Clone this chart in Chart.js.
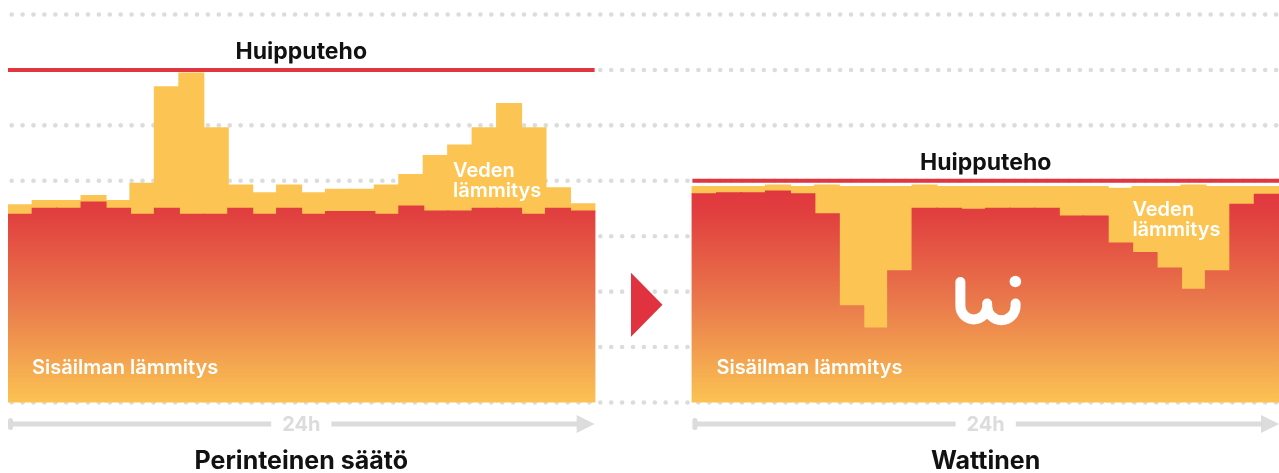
<!DOCTYPE html>
<html>
<head>
<meta charset="utf-8">
<title>Huipputeho</title>
<script src="https://cdn.jsdelivr.net/npm/chart.js@4/dist/chart.umd.min.js"></script>
<style>
  html, body { margin: 0; padding: 0; background: #fff; overflow: hidden; }
  #wrap { position: relative; width: 1279px; height: 473px; }
</style>
</head>
<body>
<div id="wrap"><canvas id="chart"></canvas></div>
<script>
(function () {
    'use strict';

    // 24 tunnin jaksot, kaksi paneelia ja väli niiden välissä
    const hours = ['00', '01', '02', '03', '04', '05', '06', '07', '08', '09', '10', '11',
                   '12', '13', '14', '15', '16', '17', '18', '19', '20', '21', '22', '23'];
    const gapSlots = 4;

    // Perinteinen säätö
    const traditionalIndoor = [3.39, 3.50, 3.50, 3.61, 3.50, 3.39, 3.50, 3.39, 3.39, 3.50, 3.39, 3.50,
                               3.39, 3.44, 3.44, 3.39, 3.54, 3.45, 3.45, 3.50, 3.50, 3.39, 3.50, 3.45];
    const traditionalWater  = [0.17, 0.14, 0.14, 0.12, 0.14, 0.56, 2.19, 2.55, 1.56, 0.42, 0.39, 0.42,
                               0.39, 0.40, 0.40, 0.53, 0.57, 1.00, 1.19, 1.45, 1.89, 1.56, 0.37, 0.13];
    const traditionalPeak = 6;

    // Wattinen
    const wattinenIndoor = [3.76, 3.78, 3.78, 3.81, 3.76, 3.40, 1.74, 1.34, 2.37, 3.50, 3.50, 3.48,
                            3.50, 3.50, 3.50, 3.36, 3.36, 2.87, 2.70, 2.42, 2.04, 2.37, 3.57, 3.75];
    const wattinenWater  = [0.13, 0.11, 0.11, 0.11, 0.13, 0.52, 2.15, 2.55, 1.52, 0.42, 0.39, 0.41,
                            0.39, 0.39, 0.39, 0.53, 0.53, 0.99, 1.19, 1.47, 1.88, 1.52, 0.32, 0.14];
    const wattinenPeak = 4;

    const panelTitles = ['Perinteinen säätö', 'Wattinen'];
    const peakLabel = 'Huipputeho';
    const indoorLabel = 'Sisäilman lämmitys';
    const waterLabel = ['Veden', 'lämmitys'];
    const axisLabel = '24h';

    const RED = '#E0363F';
    const YELLOW = '#FCC452';
    const GREY = '#DCDCDC';
    const FONT = 'Inter, "Noto Sans", sans-serif';

    const gap = new Array(gapSlots).fill(null);
    const labels = hours.concat(gap.map(() => ''), hours);
    const indoorData = traditionalIndoor.concat(gap, wattinenIndoor);
    const waterData = traditionalWater.concat(gap, wattinenWater);

    const n = hours.length;
    const rightStart = n + gapSlots;
    const peakData = [
        { x: -0.5, y: traditionalPeak },
        { x: n - 0.5, y: traditionalPeak },
        { x: n + 1, y: null },
        { x: rightStart - 0.5, y: wattinenPeak },
        { x: rightStart + n - 0.5, y: wattinenPeak }
    ];

    function indoorGradient(context) {
        const chart = context.chart;
        if (!chart.chartArea) return RED;
        const y = chart.scales.y;
        const g = chart.ctx.createLinearGradient(0, y.getPixelForValue(3.85), 0, y.getPixelForValue(0));
        g.addColorStop(0, '#E0363F');
        g.addColorStop(0.12, '#E1403F');
        g.addColorStop(0.55, '#EA7C4C');
        g.addColorStop(1, '#FBC352');
        return g;
    }

    function drawLogo(ctx, x0, y0) {
        ctx.save();
        ctx.strokeStyle = '#fff';
        ctx.fillStyle = '#fff';
        ctx.lineWidth = 10;
        ctx.lineCap = 'round';
        ctx.lineJoin = 'round';
        ctx.beginPath();
        ctx.moveTo(x0, y0);
        ctx.lineTo(x0, y0 + 24);
        ctx.arc(x0 + 13.4, y0 + 24, 13.4, Math.PI, 0, true);
        ctx.lineTo(x0 + 26.8, y0 + 21.5);
        ctx.moveTo(x0 + 26.8, y0 + 24);
        ctx.arc(x0 + 41, y0 + 24, 14.2, Math.PI, 0, true);
        ctx.lineTo(x0 + 55.2, y0 + 21.5);
        ctx.stroke();
        ctx.beginPath();
        ctx.arc(x0 + 55, y0 - 0.5, 5.8, 0, Math.PI * 2);
        ctx.fill();
        ctx.restore();
    }

    const decor = {
        id: 'decor',
        beforeDatasetsDraw(chart) {
            const ctx = chart.ctx;
            const y = chart.scales.y;
            ctx.save();
            ctx.fillStyle = GREY;
            for (let v = y.min; v <= y.max; v += 1) {
                const py = y.getPixelForValue(v);
                for (let px = 11.7; px < chart.width + 3; px += 10.9) {
                    ctx.beginPath();
                    ctx.arc(px, py, 2.3, 0, Math.PI * 2);
                    ctx.fill();
                }
            }
            ctx.restore();
        },
        afterDatasetsDraw(chart) {
            const ctx = chart.ctx;
            const xl = chart.scales.xl;
            const y = chart.scales.y;
            const panels = [
                { l: xl.getPixelForValue(-0.5), r: xl.getPixelForValue(n - 0.5), peak: traditionalPeak, water: [445, 177], logo: false },
                { l: xl.getPixelForValue(rightStart - 0.5), r: xl.getPixelForValue(rightStart + n - 0.5), peak: wattinenPeak, water: [440, 216], logo: true }
            ];

            ctx.save();
            panels.forEach((p, i) => {
                const cx = (p.l + p.r) / 2;

                // Huipputeho
                ctx.fillStyle = '#111';
                ctx.font = '700 23px ' + FONT;
                ctx.textAlign = 'center';
                ctx.textBaseline = 'alphabetic';
                ctx.fillText(peakLabel, cx, y.getPixelForValue(p.peak) - 11);

                // labels inside bars
                ctx.fillStyle = '#fff';
                ctx.font = '600 20px ' + FONT;
                ctx.textAlign = 'left';
                ctx.fillText(indoorLabel, p.l + 24, 374);
                ctx.fillText(waterLabel[0], p.l + p.water[0], p.water[1]);
                ctx.fillText(waterLabel[1], p.l + p.water[0], p.water[1] + 20);

                // 24h axis
                const ay = 424;
                ctx.font = '700 20px ' + FONT;
                ctx.textAlign = 'center';
                ctx.textBaseline = 'middle';
                ctx.fillStyle = GREY;
                ctx.fillText(axisLabel, cx, ay + 1);
                const tw = ctx.measureText(axisLabel).width;
                ctx.strokeStyle = GREY;
                ctx.lineWidth = 5;
                ctx.lineCap = 'round';
                ctx.beginPath();
                ctx.moveTo(p.l + 2.5, ay - 3.5);
                ctx.lineTo(p.l + 2.5, ay + 3.5);
                ctx.stroke();
                ctx.lineCap = 'butt';
                ctx.beginPath();
                ctx.moveTo(p.l + 2, ay);
                ctx.lineTo(cx - tw / 2 - 11, ay);
                ctx.moveTo(cx + tw / 2 + 11, ay);
                ctx.lineTo(p.r - 16, ay);
                ctx.stroke();
                ctx.beginPath();
                ctx.moveTo(p.r - 18, ay - 9);
                ctx.lineTo(p.r, ay);
                ctx.lineTo(p.r - 18, ay + 9);
                ctx.closePath();
                ctx.fill();

                // panel title
                ctx.fillStyle = '#111';
                ctx.font = '700 25px ' + FONT;
                ctx.textBaseline = 'alphabetic';
                ctx.fillText(panelTitles[i], cx, 469);

                if (p.logo) drawLogo(ctx, p.l + 268, 282);
            });

            // arrow between panels
            const gx = (panels[0].r + panels[1].l) / 2;
            ctx.fillStyle = '#E0323F';
            ctx.beginPath();
            ctx.moveTo(gx - 12.5, 272.7);
            ctx.lineTo(gx + 19, 304.7);
            ctx.lineTo(gx - 12.5, 336.7);
            ctx.closePath();
            ctx.fill();
            ctx.restore();
        }
    };

    const barStyle = {
        stack: 'load',
        grouped: false,
        borderWidth: 0,
        inflateAmount: 0.8,
        barPercentage: 1,
        categoryPercentage: 1
    };

    new Chart(document.getElementById('chart'), {
        type: 'bar',
        data: {
            labels: labels,
            datasets: [
                Object.assign({
                    label: indoorLabel,
                    data: indoorData,
                    backgroundColor: indoorGradient
                }, barStyle),
                Object.assign({
                    label: waterLabel.join(' '),
                    data: waterData,
                    backgroundColor: YELLOW
                }, barStyle),
                {
                    type: 'line',
                    label: peakLabel,
                    xAxisID: 'xl',
                    data: peakData,
                    borderColor: RED,
                    borderWidth: 4,
                    pointRadius: 0,
                    spanGaps: false,
                    order: -1
                }
            ]
        },
        options: {
            responsive: true,
            maintainAspectRatio: false,
            animation: false,
            devicePixelRatio: 1,
            layout: { padding: { left: 8, right: 0, top: 14.5, bottom: 70.5 } },
            plugins: {
                legend: { display: false },
                tooltip: { enabled: false }
            },
            scales: {
                x: { stacked: true, display: false },
                xl: { type: 'linear', offset: false, grid: { offset: false }, min: -0.5, max: rightStart + n - 0.5, display: false },
                y: { stacked: true, min: 0, max: 7, display: false, ticks: { stepSize: 1 } }
            }
        },
        plugins: [decor]
    });
})();
</script>
</body>
</html>
